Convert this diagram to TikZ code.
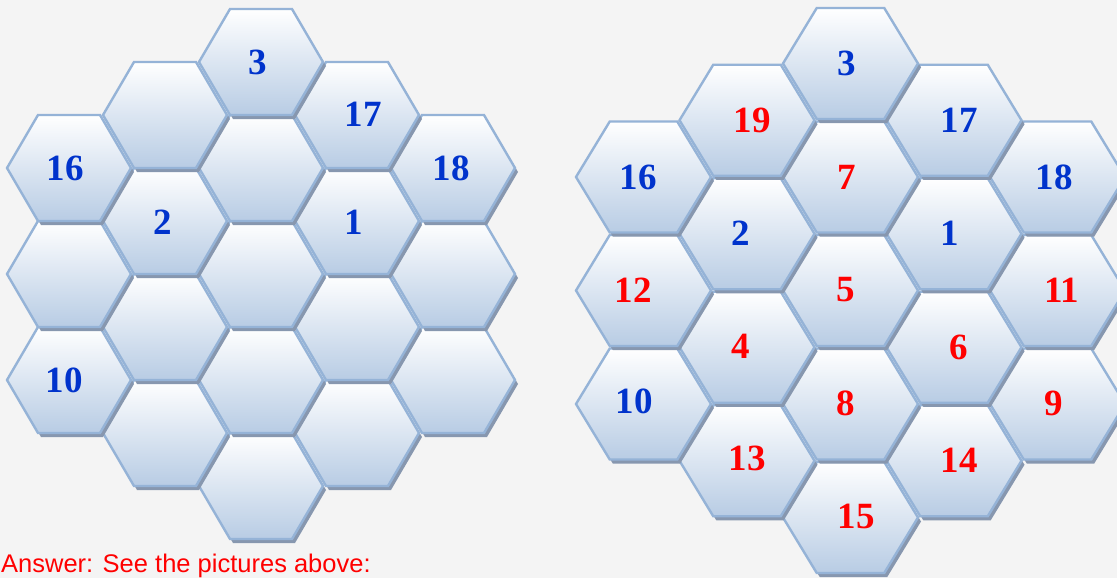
\documentclass[tikz,border=0pt]{standalone}
\usepackage{fontspec}
\setmainfont{Liberation Serif}
\newfontfamily\ansfont{Liberation Sans}
\definecolor{bgc}{HTML}{F4F4F4}
\definecolor{hexborder}{HTML}{95B3D7}
\definecolor{hexbottom}{HTML}{B8CCE4}
\definecolor{hexmid}{HTML}{D9E3F0}
\definecolor{hexshadow}{HTML}{8797AF}
\definecolor{numblue}{HTML}{0033CC}
\definecolor{numred}{HTML}{FF0000}
\tikzset{
  hexcell/.style={draw=hexborder, line width=2.4pt, top color=white, middle color=hexmid, bottom color=hexbottom},
  hexshade/.style={fill=hexshadow},
  num/.style={inner sep=0pt, font=\bfseries\fontsize{37}{37}\selectfont},
  bnum/.style={num, text=numblue},
  rnum/.style={num, text=numred}
}
\newcommand\hexat[4]{%
  \begin{scope}[shift={(#1,#2)}]
    \fill[hexshade,shift={(3,4)}] (-#3,0) -- ++(#3/2,-#4) -- ++(#3,0) -- ++(#3/2,#4) -- ++(-#3/2,#4) -- ++(-#3,0) -- cycle;
    \path[hexcell] (-#3,0) -- ++(#3/2,-#4) -- ++(#3,0) -- ++(#3/2,#4) -- ++(-#3/2,#4) -- ++(-#3,0) -- cycle;
  \end{scope}}
\begin{document}
\begin{tikzpicture}[x=1pt,y=-1pt]
\useasboundingbox (0,0) rectangle (1117,578);
\fill[bgc] (0,0) rectangle (1117,578);
% left grid (drawn bottom rows first)
\foreach \cx/\cy in {261/486, 165/433, 357/433, 69/380, 261/380, 453/380,
  165/327, 357/327, 69/274, 261/274, 453/274, 165/221, 357/221,
  69/168, 261/168, 453/168, 165/115, 357/115, 261/62}
  {\hexat{\cx}{\cy}{62}{53}}
% right grid
\foreach \cx/\cy in {850.5/517.5, 747/460.75, 954/460.75, 643.5/404, 850.5/404, 1057.5/404,
  747/347.25, 954/347.25, 643.5/290.5, 850.5/290.5, 1057.5/290.5, 747/233.75, 954/233.75,
  643.5/177, 850.5/177, 1057.5/177, 747/120.25, 954/120.25, 850.5/63.5}
  {\hexat{\cx}{\cy}{67.5}{55.5}}
% left labels
\node[bnum] (l3) at (258,62) {3};
\node[bnum] (l17) at (363,114) {17};
\node[bnum] (l16) at (65,168) {16};
\node[bnum] (l18) at (451,168) {18};
\node[bnum] (l2) at (163,222) {2};
\node[bnum] (l1) at (354,222) {1};
\node[bnum] (l10) at (64,380) {10};
% right labels
\node[bnum] (r3) at (847,63) {3};
\node[rnum] (r19) at (752,120) {19};
\node[bnum] (r17) at (959,120) {17};
\node[bnum] (r16) at (638,177) {16};
\node[rnum] (r7) at (847,177) {7};
\node[bnum] (r18) at (1054,177) {18};
\node[bnum] (r2) at (741,233) {2};
\node[bnum] (r1) at (950,233) {1};
\node[rnum] (r12) at (633,290) {12};
\node[rnum] (r5) at (846,290) {5};
\node[rnum] (r11) at (1062,290) {11};
\node[rnum] (r4) at (741,346) {4};
\node[rnum] (r6) at (959,347) {6};
\node[bnum] (r10) at (634,401) {10};
\node[rnum] (r8) at (846,403) {8};
\node[rnum] (r9) at (1054,403) {9};
\node[rnum] (r13) at (747,458) {13};
\node[rnum] (r14) at (959,460) {14};
\node[rnum] (r15) at (856,516) {15};
% answer line
\node[anchor=base west, inner sep=0pt, text=numred, font=\ansfont\fontsize{25.5}{25.5}\selectfont] (ans) at (1,572.5) {Answer: See the pictures above:};
\end{tikzpicture}
\end{document}
